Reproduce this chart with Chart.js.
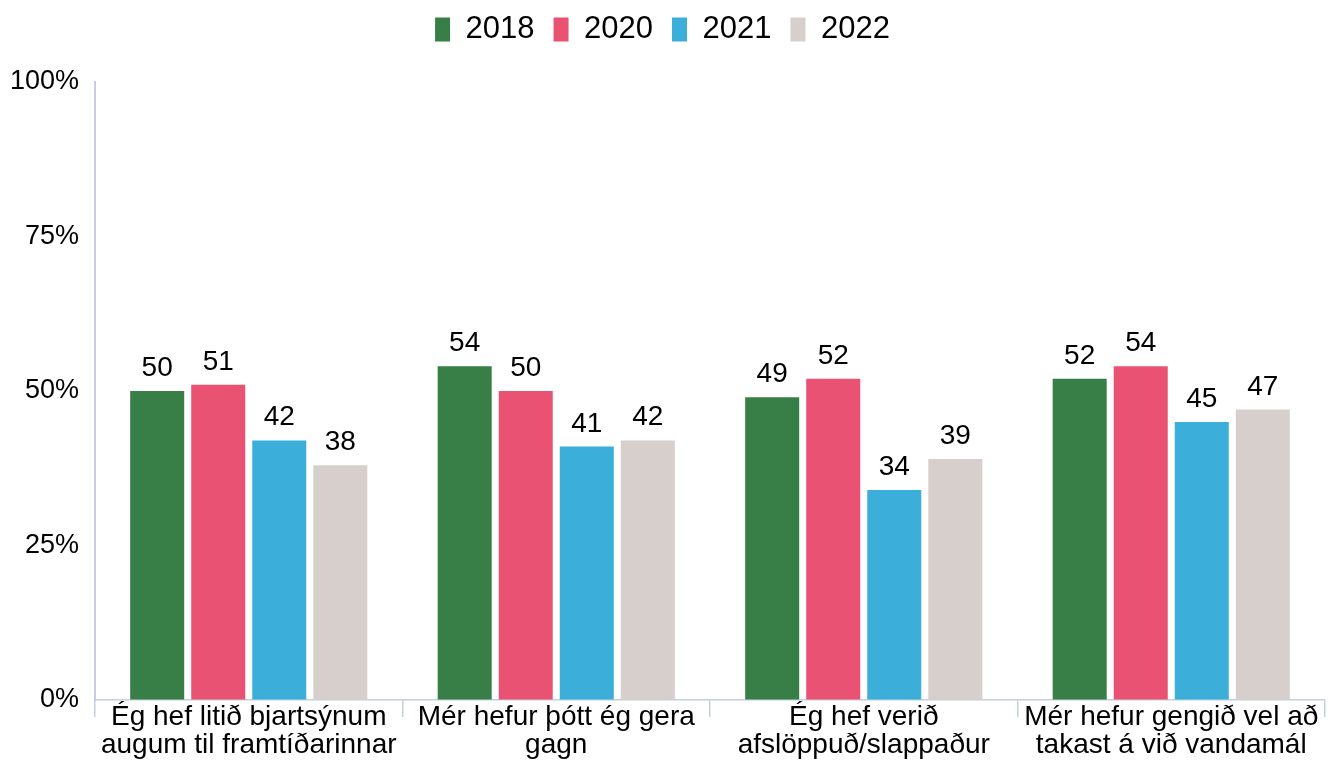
<!DOCTYPE html>
<html>
<head>
<meta charset="utf-8">
<script src="https://cdn.jsdelivr.net/npm/chart.js@4"></script>
<style>
  html, body { margin: 0; padding: 0; background: #fff; }
  #wrap { width: 1328px; height: 765px; position: relative; }
</style>
</head>
<body>
<div id="wrap"><canvas id="chart"></canvas></div>
<script>
const categories = [
  ['Ég hef litið bjartsýnum', 'augum til framtíðarinnar'],
  ['Mér hefur þótt ég gera', 'gagn'],
  ['Ég hef verið', 'afslöppuð/slappaður'],
  ['Mér hefur gengið vel að', 'takast á við vandamál']
];
const years = ['2018', '2020', '2021', '2022'];
const values2018 = [50, 54, 49, 52];
const values2020 = [51, 50, 52, 54];
const values2021 = [42, 41, 34, 45];
const values2022 = [38, 42, 39, 47];
const yTicks = [0, 25, 50, 75, 100];

const colors = ['#377E47', '#E95272', '#3BAED9', '#D6CFCC'];
const axisColor = '#C3CFE0';
const fontFamily = '"Liberation Sans", Arial, sans-serif';

// draw the numbers above the bars
const barValues = {
  id: 'barValues',
  afterDatasetsDraw(chart) {
    const ctx = chart.ctx;
    ctx.save();
    ctx.font = '28px ' + fontFamily;
    ctx.fillStyle = '#000';
    ctx.textAlign = 'center';
    ctx.textBaseline = 'alphabetic';
    chart.data.datasets.forEach((ds, i) => {
      chart.getDatasetMeta(i).data.forEach((bar, j) => {
        ctx.fillText(ds.data[j], bar.x, bar.y - 15);
      });
    });
    ctx.restore();
  }
};

// extra room under the legend
const legendSpacer = {
  id: 'legendSpacer',
  beforeInit(chart) {
    const fit = chart.legend.fit;
    chart.legend.fit = function () {
      fit.bind(chart.legend)();
      this.height += 27;
    };
  }
};

const allValues = [values2018, values2020, values2021, values2022];

new Chart(document.getElementById('chart'), {
  type: 'bar',
  data: {
    labels: categories,
    datasets: years.map((y, i) => ({
      label: y,
      data: allValues[i],
      backgroundColor: colors[i],
      borderWidth: 0,
      categoryPercentage: 0.794,
      barPercentage: 0.885
    }))
  },
  options: {
    responsive: true,
    maintainAspectRatio: false,
    animation: false,
    layout: { padding: { top: -5, right: 3, left: 0, bottom: 0 } },
    plugins: {
      tooltip: { enabled: false },
      legend: {
        position: 'top',
        labels: {
          color: '#000',
          font: { family: fontFamily, size: 31 },
          boxWidth: 15,
          boxHeight: 24,
          padding: 19
        }
      }
    },
    scales: {
      x: {
        grid: {
          offset: true,
          drawOnChartArea: false,
          drawTicks: true,
          tickLength: 17,
          lineWidth: 1.5,
          color: axisColor
        },
        border: { color: axisColor, width: 1.5 },
        ticks: {
          color: '#000',
          font: { family: fontFamily, size: 28, lineHeight: 1.0 },
          padding: -14,
          maxRotation: 0,
          autoSkip: false
        },
        afterFit(scale) { scale.height = 65; }
      },
      y: {
        min: 0,
        max: 100,
        grid: { drawOnChartArea: false, drawTicks: false },
        border: { color: axisColor, width: 2 },
        afterBuildTicks(scale) {
          scale.ticks = yTicks.map(v => ({ value: v }));
        },
        ticks: {
          color: '#000',
          font: { family: fontFamily, size: 27 },
          padding: 16,
          callback: v => v + '%'
        },
        afterFit(scale) { scale.width = 95; }
      }
    }
  },
  plugins: [barValues, legendSpacer]
});
</script>
</body>
</html>
